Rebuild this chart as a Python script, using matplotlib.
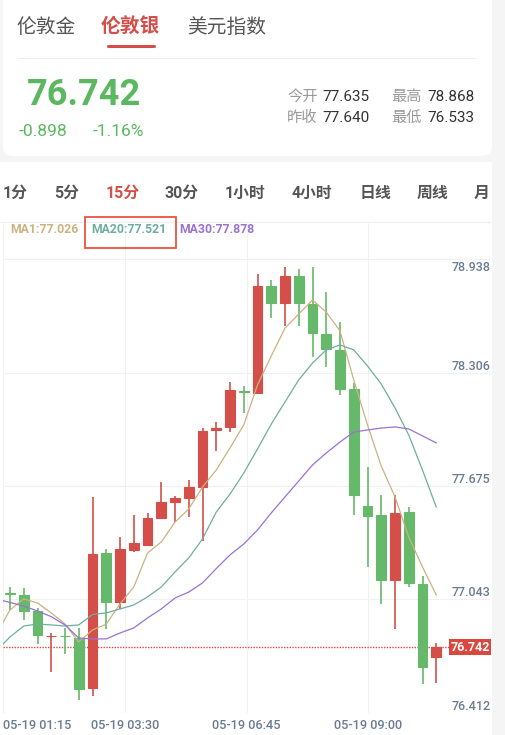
import numpy as np
import matplotlib
matplotlib.use('Agg')
import matplotlib.pyplot as plt
from matplotlib.patches import FancyBboxPatch, Rectangle

plt.rcParams['font.family'] = ['Roboto', 'Noto Sans CJK SC', 'DejaVu Sans']

# 顶部信息
tabs = ['伦敦金', '伦敦银', '美元指数']
periods = ['1分', '5分', '15分', '30分', '1小时', '4小时', '日线', '周线', '月']
last_price = '76.742'
change, change_pct = '-0.898', '-1.16%'
quote_labels = [['今开', '最高'], ['昨收', '最低']]
quote_values = [['77.635', '78.868'], ['77.640', '76.533']]
ma_labels = ['MA1:77.026', 'MA20:77.521', 'MA30:77.878']

# 坐标轴
times = ['05-19 01:15', '05-19 03:30', '05-19 06:45', '05-19 09:00']
y_ticks = [76.412, 77.043, 77.675, 78.306, 78.938]

# 15分K线
opens = [77.078, 77.068, 76.980, 76.840, 76.842, 76.828, 76.550, 77.302, 77.029, 77.318,
         77.346, 77.497, 77.586, 77.608, 77.670, 77.987, 78.004, 78.204, 78.192, 78.791,
         78.696, 78.847, 78.687, 78.522, 78.433, 78.214, 77.565, 77.513, 77.151, 77.529,
         77.129, 76.721]
closes = [77.076, 76.980, 76.843, 76.842, 76.840, 76.544, 77.296, 77.029, 77.324, 77.357,
          77.497, 77.586, 77.608, 77.670, 77.981, 77.998, 78.210, 78.196, 78.791, 78.696,
          78.847, 78.693, 78.526, 78.437, 78.215, 77.625, 77.510, 77.151, 77.526, 77.136,
          76.668, 76.776]
highs = [77.114, 77.107, 76.995, 76.856, 76.884, 76.884, 77.614, 77.324, 77.391, 77.513,
         77.525, 77.697, 77.619, 77.708, 77.998, 78.032, 78.254, 78.232, 78.854, 78.823,
         78.897, 78.882, 78.897, 78.758, 78.590, 78.251, 77.779, 77.625, 77.625, 77.556,
         77.174, 76.802]
lows = [76.984, 76.928, 76.795, 76.639, 76.739, 76.483, 76.505, 76.878, 76.990, 77.307,
        77.341, 77.495, 77.474, 77.502, 77.369, 77.870, 77.976, 78.082, 78.188, 78.609,
        78.568, 78.568, 78.392, 78.340, 78.182, 77.513, 77.225, 77.018, 76.877, 77.114,
        76.572, 76.579]

# 均线 (第一个值属于前一根K线)
ma1 = [76.850, 76.984, 77.046, 77.023, 76.968, 76.906, 76.806, 76.873, 76.906, 77.018,
       77.112, 77.302, 77.363, 77.474, 77.547, 77.669, 77.764, 77.887, 78.015, 78.238,
       78.399, 78.555, 78.633, 78.711, 78.644, 78.539, 78.266, 78.015, 77.786, 77.614,
       77.391, 77.224, 77.068]
ma20 = [76.756, 76.834, 76.895, 76.906, 76.901, 76.895, 76.901, 76.959, 76.968, 76.990,
        77.012, 77.057, 77.112, 77.196, 77.274, 77.380, 77.530, 77.630, 77.747, 77.881,
        78.020, 78.143, 78.266, 78.360, 78.433, 78.461, 78.433, 78.344, 78.243, 78.110,
        77.959, 77.764, 77.558]
ma30 = [77.046, 77.026, 77.006, 76.979, 76.947, 76.901, 76.828, 76.823, 76.823, 76.856,
        76.884, 76.940, 76.990, 77.051, 77.084, 77.135, 77.215, 77.291, 77.352, 77.430,
        77.525, 77.614, 77.703, 77.792, 77.859, 77.920, 77.976, 77.987, 77.998, 78.004,
        77.993, 77.954, 77.915]

RED = '#d44f49'
GREEN = '#66b96a'
TAN, TEAL, PURPLE = '#cbb27f', '#6eae9f', '#9a72d2'
AXIS_TXT = '#6b7b93'

W, H = 506, 735
fig = plt.figure(figsize=(W / 100, H / 100), dpi=100)
fig.patch.set_facecolor('#f5f5f5')

# 背景层, 像素坐标
bg = fig.add_axes([0, 0, 1, 1])
bg.set_xlim(0, W)
bg.set_ylim(H, 0)
bg.axis('off')
bg.add_patch(FancyBboxPatch((3, -30), 489, 186, boxstyle='round,pad=0,rounding_size=10',
                            fc='white', ec='none'))
bg.add_patch(Rectangle((0, 162), 492, 580, fc='white', ec='none'))

# 品种标签
tab_x = [16, 101, 187]
for i, (t, x) in enumerate(zip(tabs, tab_x)):
    active = i == 1
    bg.text(x, 27, t, fontsize=14.2, color=RED if active else '#555555',
            fontweight='bold' if active else 'normal', va='center', ha='left')
bg.plot([108, 154], [45.5, 45.5], color=RED, lw=2.2, solid_capstyle='round')
bg.plot([18, 475], [58.3, 58.3], color='#eeeeee', lw=0.8)

# 价格
bg.text(27, 95, last_price, fontsize=26, fontweight='bold', color='#5cb860', va='center')
bg.text(19, 131.5, change, fontsize=12.5, color='#5cb860', va='center')
bg.text(93, 131.5, change_pct, fontsize=12.5, color='#5cb860', va='center')
for r, y in enumerate([97, 118]):
    for c, (lx, vx) in enumerate([(287, 322), (391, 427)]):
        bg.text(lx, y, quote_labels[r][c], fontsize=11, color='#9a9a9a', va='center')
        bg.text(vx, y, quote_values[r][c], fontsize=11, color='#333333', va='center')

# 周期
period_x = [3, 54, 106, 165, 225, 292, 360, 417, 474]
for i, (p, x) in enumerate(zip(periods, period_x)):
    bg.text(x, 193, p, fontsize=11.4, color=RED if i == 2 else '#555555',
            fontweight='bold', va='center')
bg.plot([0, 490], [221.7, 221.7], color='#eeeeee', lw=0.8)

# K线图
x0, x1 = (3.3 - 10) / 13.75, (490 - 10) / 13.75
y_top = 76.412 + (712.7 - 222) * (0.6315 / 113.35)
ax = fig.add_axes([3.3 / W, (H - 712.7) / H, (490 - 3.3) / W, (712.7 - 222) / H])
ax.patch.set_alpha(0)
ax.set_xlim(x0, x1)
ax.set_ylim(76.412, y_top)
for s in ax.spines.values():
    s.set_visible(False)
ax.set_yticks(y_ticks)
ax.set_xticks(np.linspace(x0, x1, 5))
ax.grid(True, color='#f1f1f1', lw=0.8)
ax.set_axisbelow(True)
ax.tick_params(left=False, bottom=False, labelleft=False, labelbottom=False)

# 均线数值 (画在网格之上)
for lab, x, col in zip(ma_labels, [10, 91, 179], [TAN, TEAL, PURPLE]):
    ax.text(x, 229.5, lab, transform=bg.transData, fontsize=8.8, color=col,
            fontweight='bold', va='center', zorder=5, clip_on=False)
ax.add_patch(Rectangle((85, 217), 91, 30.5, transform=bg.transData, fc='none',
                       ec='#ea5340', lw=1.3, zorder=5, clip_on=False))

idx = np.arange(len(opens))
for i in idx:
    o, c, h, l = opens[i], closes[i], highs[i], lows[i]
    col = RED if c >= o else GREEN
    ax.vlines(i, l, h, color=col, lw=1.2, zorder=2)
    ax.bar(i, c - o, bottom=o, width=0.72, color=col, edgecolor=col, lw=0.8, zorder=3)

mx = np.arange(-1, len(opens))
ax.plot(mx, ma1, color=TAN, lw=0.9, zorder=4)
ax.plot(mx, ma20, color=TEAL, lw=0.9, zorder=4)
ax.plot(mx, ma30, color=PURPLE, lw=0.9, zorder=4)

# 最新价
ax.axhline(closes[-1], xmin=0, xmax=(451.7 - 3.3) / (490 - 3.3), color='#d9473f',
           ls=(0, (1, 1)), lw=1.0, zorder=1)
ax.annotate(last_price, xy=(1, closes[-1]), xycoords=('axes fraction', 'data'),
            ha='right', va='center', fontsize=9, fontweight='bold', color='white',
            bbox=dict(boxstyle='square,pad=0.12', fc='#d9473f', ec='none'),
            annotation_clip=False, zorder=6)

# 右侧刻度
for v in y_ticks:
    top = v == y_ticks[-1]
    ax.annotate(f'{v:.3f}', xy=(1, v), xycoords=('axes fraction', 'data'),
                xytext=(0.5, -8.6 if top else 2.3), textcoords='offset points',
                ha='right', va='baseline', fontsize=9, color=AXIS_TXT,
                fontweight='medium', annotation_clip=False)

# 时间
for k, t in enumerate(times):
    ax.annotate(t, xy=(k / 4, 0), xycoords='axes fraction', xytext=(0, -9.2),
                textcoords='offset points', ha='left' if k == 0 else 'center',
                va='center', fontsize=9.2, color=AXIS_TXT, fontweight='medium',
                annotation_clip=False)

fig.savefig('out.png', dpi=100)
